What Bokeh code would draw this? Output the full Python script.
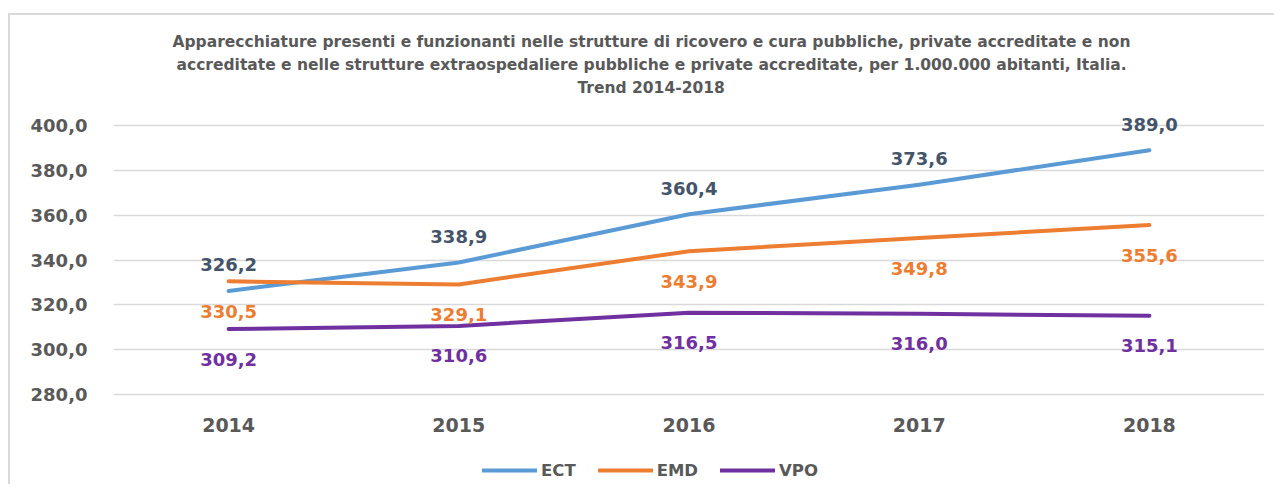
from bokeh.plotting import figure
from bokeh.models import (ColumnDataSource, FactorRange, Range1d, FixedTicker,
                          CustomJSTickFormatter, LabelSet, Title, Legend, LegendItem)
from bokeh.core.properties import value
from bokeh.embed import file_html
from bokeh.resources import INLINE

years = ["2014", "2015", "2016", "2017", "2018"]
ect = [326.2, 338.9, 360.4, 373.6, 389.0]
emd = [330.5, 329.1, 343.9, 349.8, 355.6]
vpo = [309.2, 310.6, 316.5, 316.0, 315.1]
y_ticks = [280, 300, 320, 340, 360, 380, 400]
series_names = ["ECT", "EMD", "VPO"]
title_lines = [
    "Apparecchiature presenti e funzionanti nelle strutture di ricovero e cura pubbliche, private accreditate e non",
    "accreditate e nelle strutture extraospedaliere pubbliche e private accreditate, per 1.000.000 abitanti, Italia.",
    "Trend 2014-2018",
]
title_offsets = [59, 63, 464]

def fmt(v):
    return f"{v:.1f}".replace(".", ",")

W, H = 1266, 471
p = figure(width=W, height=H, x_range=FactorRange(*years), y_range=Range1d(238.96, 405.8),
           output_backend="svg", toolbar_location=None, title=None, x_axis_location=None,
           min_border_left=103, min_border_right=12, min_border_top=97, min_border_bottom=0)
p.styles = {"margin-top": "13px", "margin-left": "8px",
            "border-left": "2px solid #d9d9d9", "border-top": "2px solid #d9d9d9"}
p.outline_line_color = None
p.background_fill_color = "white"
p.border_fill_color = "white"

# y axis
p.yaxis.ticker = FixedTicker(ticks=y_ticks)
p.yaxis.formatter = CustomJSTickFormatter(code="return tick.toFixed(1).replace('.', ',');")
ax = p.yaxis[0]
ax.axis_line_color = None
ax.major_tick_line_color = None
ax.minor_tick_line_color = None
ax.major_label_text_color = "#595959"
ax.major_label_text_font = "DejaVu Sans"
ax.major_label_text_font_style = "bold"
ax.major_label_text_font_size = "18px"
ax.major_label_standoff = 20
p.xgrid.grid_line_color = None
p.ygrid.grid_line_color = "#d9d9d9"
p.ygrid.grid_line_width = 1.5
p.ygrid.ticker = FixedTicker(ticks=y_ticks)

# category labels (x axis) placed under the lowest grid line
cat_src = ColumnDataSource(dict(x=years, y=[y_ticks[0]] * len(years), t=years))
p.add_layout(LabelSet(x="x", y="y", text="t", source=cat_src, y_offset=-30,
                      text_align="center", text_baseline="middle",
                      text_font=value("DejaVu Sans"), text_font_style="bold",
                      text_font_size="19px", text_color="#595959"))

colors = ["#5b9bd5", "#ed7d31", "#7030a0"]
label_colors = ["#44546a", "#ed7d31", "#7030a0"]
offsets = [26, -30, -30]
items = []
for name, vals, c, lc, off in zip(series_names, [ect, emd, vpo], colors, label_colors, offsets):
    src = ColumnDataSource(dict(x=years, y=vals, t=[fmt(v) for v in vals]))
    r = p.line("x", "y", source=src, line_color=c, line_width=4, line_cap="round", line_join="round")
    items.append(LegendItem(label=name, renderers=[r]))
    p.add_layout(LabelSet(x="x", y="y", text="t", source=src, y_offset=off,
                          text_align="center", text_baseline="middle",
                          text_font=value("DejaVu Sans"), text_font_style="bold",
                          text_font_size="18px", text_color=lc))

legend = Legend(items=items, orientation="horizontal", location=(369, 6),
                glyph_width=55, glyph_height=20, label_standoff=4, spacing=22,
                padding=0, margin=0, border_line_color=None, background_fill_alpha=0,
                label_text_font="DejaVu Sans", label_text_font_style="bold",
                label_text_font_size="16.5px", label_text_color="#595959")
p.add_layout(legend, "center")

# spacer between title block and plot area
p.add_layout(Title(text=" ", text_font_size="11.5px", standoff=0), "above")
for line, off in reversed(list(zip(title_lines, title_offsets))):
    p.add_layout(Title(text=line, align="left", offset=off, standoff=3,
                       text_font="DejaVu Sans", text_font_style="bold", text_font_size="15.5px",
                       text_color="#595959"), "above")

open("out.html", "w").write(file_html(p, INLINE))
